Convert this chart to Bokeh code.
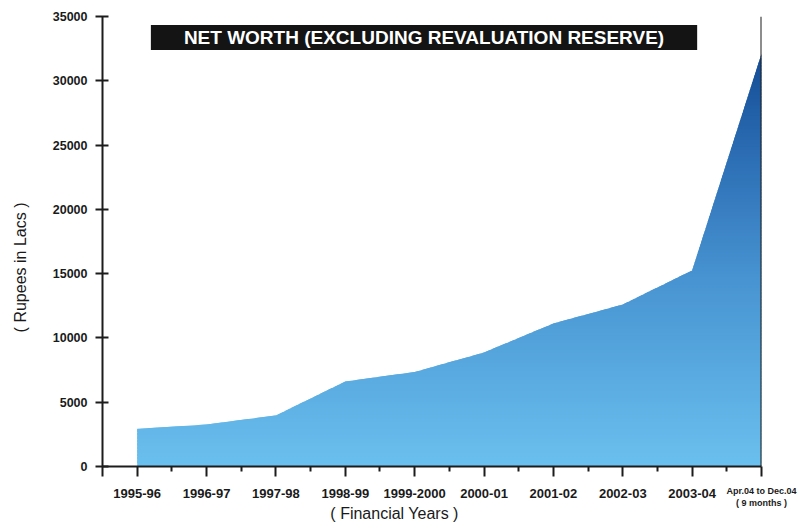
import math
from bokeh.plotting import figure
from bokeh.models import FixedTicker, Label, Span, Range1d, LinearAxis
from bokeh.embed import file_html
from bokeh.resources import INLINE

# ---- data ----
years = ["1995-96", "1996-97", "1997-98", "1998-99", "1999-2000",
         "2000-01", "2001-02", "2002-03", "2003-04", "Apr.04 to Dec.04"]
last_period_note = "( 9 months )"
net_worth = [2930, 3270, 3970, 6610, 7350, 8870, 11120, 12600, 15250, 32100]
y_ticks = [0, 5000, 10000, 15000, 20000, 25000, 30000, 35000]

title_text = "NET WORTH (EXCLUDING REVALUATION RESERVE)"
y_title = "( Rupees in Lacs )"
x_title = "( Financial Years )"

xpos = list(range(len(years)))

# ---- helpers for a vertical gradient fill (clip area polygon into bands) ----
def _cross(a, b, y0):
    t = (y0 - a[1]) / (b[1] - a[1])
    return (a[0] + t * (b[0] - a[0]), y0)

def _clip(poly, y0, keep_above):
    out = []
    n = len(poly)
    for i in range(n):
        cur, prev = poly[i], poly[i - 1]
        cin = cur[1] >= y0 if keep_above else cur[1] <= y0
        pin = prev[1] >= y0 if keep_above else prev[1] <= y0
        if cin:
            if not pin:
                out.append(_cross(prev, cur, y0))
            out.append(cur)
        elif pin:
            out.append(_cross(prev, cur, y0))
    return out

stops = [(0.0, (106, 192, 238)), (0.45, (72, 148, 210)), (0.75, (44, 110, 180)), (1.0, (20, 76, 148))]

def _color(t):
    for (t0, c0), (t1, c1) in zip(stops[:-1], stops[1:]):
        if t <= t1:
            f = (t - t0) / (t1 - t0) if t1 > t0 else 0
            r, g, b = (round(c0[k] + f * (c1[k] - c0[k])) for k in range(3))
            return "#%02x%02x%02x" % (r, g, b)
    return "#%02x%02x%02x" % stops[-1][1]

area = [(xpos[0], 0)] + list(zip(xpos, net_worth)) + [(xpos[-1], 0)]
top = max(net_worth)
nb = 120
step = top / nb
band_xs, band_ys, band_cols = [], [], []
for k in range(nb):
    lo = step * k
    hi = min(top, step * (k + 1) + step * 0.8)   # slight overlap hides seams
    piece = _clip(_clip(area, lo, True), hi, False)
    if len(piece) >= 3:
        band_xs.append([pt[0] for pt in piece])
        band_ys.append([pt[1] for pt in piece])
        band_cols.append(_color((k + 0.5) / nb))

# ---- figure ----
p = figure(width=798, height=526,
           x_range=Range1d(-0.5, xpos[-1]), y_range=Range1d(y_ticks[0], y_ticks[-1]),
           output_backend="svg", toolbar_location=None,
           min_border_left=102, min_border_right=37, min_border_top=16, min_border_bottom=60)
p.outline_line_color = None
p.grid.visible = False
p.background_fill_color = "white"
p.border_fill_color = "white"

p.patches(band_xs, band_ys, fill_color=band_cols, line_color=None)

axis_col = "#1c1c1c"
txt_col = "#1a1a1a"

# x axis
p.xaxis.ticker = FixedTicker(ticks=[-0.5] + xpos, minor_ticks=[i + 0.5 for i in xpos[:-1]])
ov = {i: years[i] for i in xpos[:-1]}
ov[xpos[-1]] = ""
ov[-0.5] = ""
p.xaxis.major_label_overrides = ov
p.xaxis.axis_line_width = 2
p.xaxis.axis_line_color = axis_col
p.xaxis.major_tick_in = 0
p.xaxis.major_tick_out = 10
p.xaxis.minor_tick_in = 0
p.xaxis.minor_tick_out = 5
p.xaxis.major_tick_line_width = 2
p.xaxis.minor_tick_line_width = 2
p.xaxis.major_tick_line_color = axis_col
p.xaxis.minor_tick_line_color = axis_col
p.xaxis.major_label_standoff = 12
p.xaxis.major_label_text_font = "Liberation Sans"
p.xaxis.major_label_text_font_style = "bold"
p.xaxis.major_label_text_font_size = "13px"
p.xaxis.major_label_text_color = txt_col

# y axis
p.yaxis.ticker = FixedTicker(ticks=y_ticks)
p.yaxis.axis_line_width = 2
p.yaxis.axis_line_color = axis_col
p.yaxis.major_tick_in = 6
p.yaxis.major_tick_out = 7
p.yaxis.major_tick_line_width = 2
p.yaxis.major_tick_line_color = axis_col
p.yaxis.minor_tick_line_color = None
p.yaxis.major_label_standoff = 8
p.yaxis.major_label_text_font = "Liberation Sans"
p.yaxis.major_label_text_font_style = "bold"
p.yaxis.major_label_text_font_size = "12.5px"
p.yaxis.major_label_text_color = txt_col

def _bare_axis(tick, label, standoff, font, size, style, orient="horizontal"):
    ax = LinearAxis(ticker=FixedTicker(ticks=[tick], minor_ticks=[]),
                    major_label_overrides={tick: label},
                    axis_line_color=None, major_tick_line_color=None, minor_tick_line_color=None,
                    major_tick_in=0, major_tick_out=0, major_label_standoff=standoff,
                    major_label_orientation=orient,
                    major_label_text_font=font, major_label_text_font_size=size,
                    major_label_text_font_style=style, major_label_text_color=txt_col)
    return ax

# last category label (two lines, condensed)
p.add_layout(_bare_axis(xpos[-1], years[-1] + "\n" + last_period_note, -15,
                        "Liberation Sans", "9px", "bold"), "below")
# x title, centred where the reference has it
p.add_layout(_bare_axis(3.71, x_title, -6, "Liberation Sans", "16px", "normal"), "below")
# y title
p.add_layout(_bare_axis(15480, y_title, 20, "Liberation Sans", "16px", "normal", "vertical"), "left")

# right border line at last category
p.add_layout(Span(location=xpos[-1], dimension="height", line_color=axis_col, line_width=2))

# title box
p.add_layout(Label(x=4.135, y=33370, text=title_text, text_align="center", text_baseline="middle",
                   text_font="Liberation Sans", text_font_style="bold", text_font_size="19px",
                   text_color="white", background_fill_color="#141414", padding=(33, 2)))

open("out.html", "w").write(file_html(p, INLINE))
